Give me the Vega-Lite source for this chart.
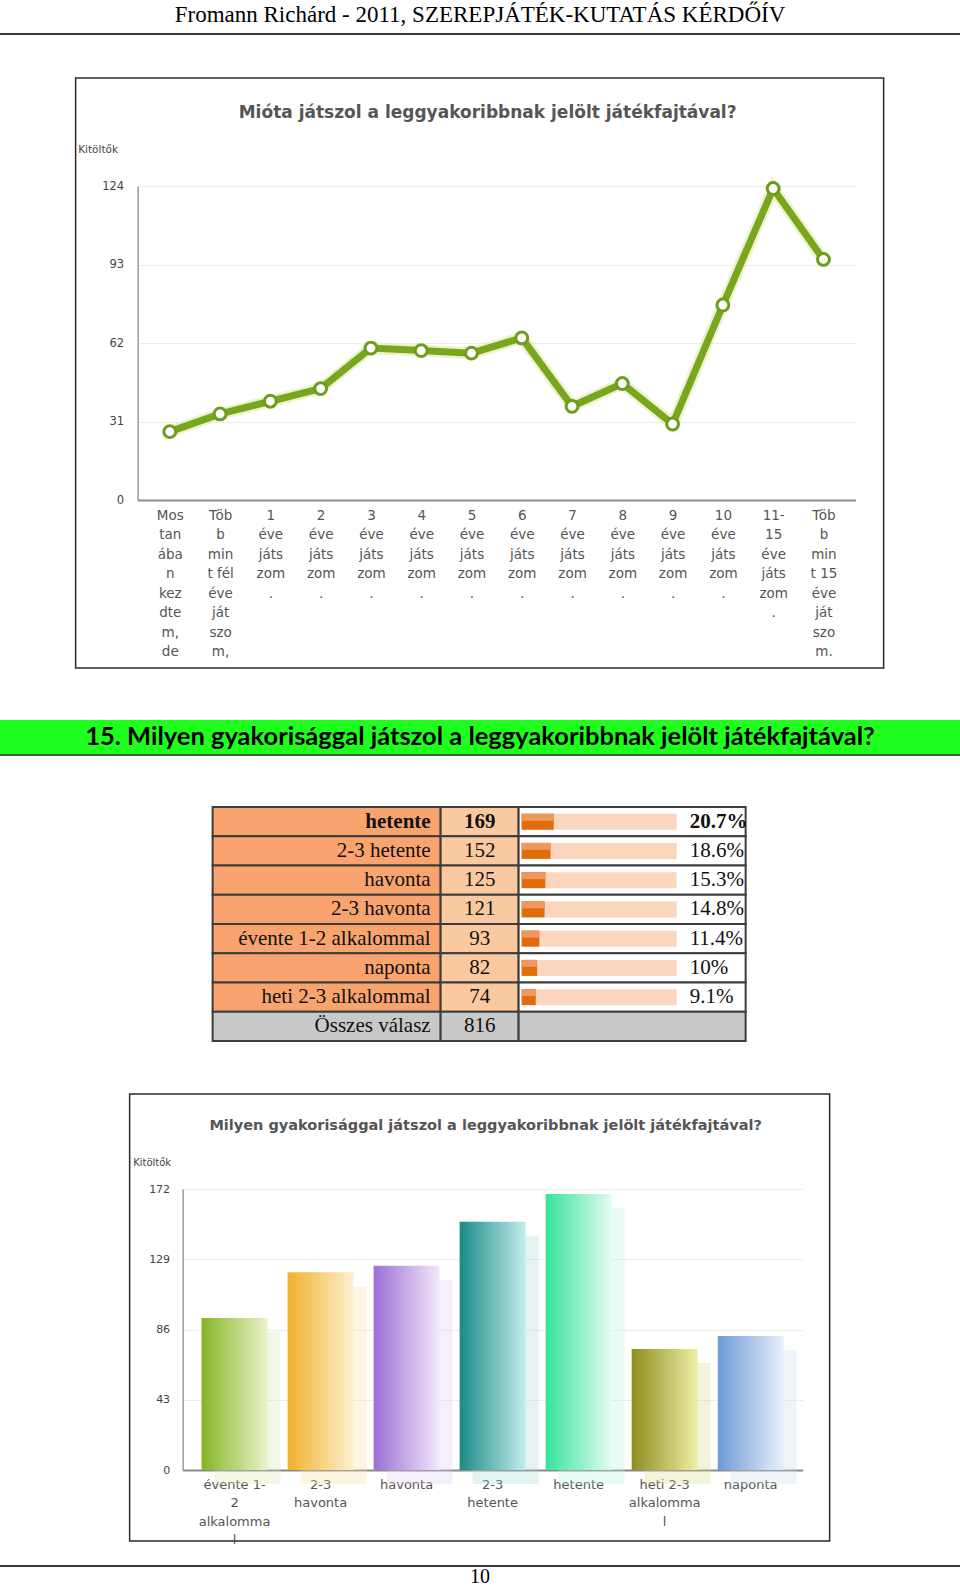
{
  "$schema": "https://vega.github.io/schema/vega-lite/v6.json",
  "padding": 0,
  "background": "white",
  "autosize": {"type": "pad"},
  "spacing": 0,
  "center": true,
  "bounds": "full",
  "config": {
    "view": {"stroke": null},
    "font": "DejaVu Sans",
    "axis": {"labelFont": "DejaVu Sans", "titleFont": "DejaVu Sans"}
  },
  "vconcat": [
    {
      "width": 960, "height": 33,
      "data": {"values": [{"t": "Fromann Richárd - 2011, SZEREPJÁTÉK-KUTATÁS KÉRDŐÍV"}]},
      "mark": {"type": "text", "font": "Liberation Serif", "fontSize": 23, "baseline": "middle", "dy": -2, "color": "#000000"},
      "encoding": {"text": {"field": "t"}}
    },
    {
      "width": 960, "height": 2, "view": {"fill": "#3a3a3a", "stroke": null},
      "data": {"values": [{}]}, "mark": {"type": "text", "fontSize": 1}, "encoding": {"text": {"value": ""}}
    },
    {
      "width": 960, "height": 42,
      "data": {"values": [{}]}, "mark": {"type": "text", "fontSize": 1}, "encoding": {"text": {"value": ""}}
    },
    {
      "width": 808, "height": 590,
      "view": {"stroke": "#2a2a2a", "strokeWidth": 1.5, "fill": "white"},
      "title": {"text": "Mióta játszol a leggyakoribbnak jelölt játékfajtával?", "frame": "group", "anchor": "middle", "offset": -52, "baseline": "middle", "dx": 8, "font": "DejaVu Sans", "fontSize": 17, "fontWeight": "bold", "color": "#555555"},
      "data": {"values": [
        {"cat": "Mostanában kezdtem, de", "n": 27},
        {"cat": "Több mint fél éve játszom,", "n": 34},
        {"cat": "1 éve játszom.", "n": 39},
        {"cat": "2 éve játszom.", "n": 44},
        {"cat": "3 éve játszom.", "n": 60},
        {"cat": "4 éve játszom.", "n": 59},
        {"cat": "5 éve játszom.", "n": 58},
        {"cat": "6 éve játszom.", "n": 64},
        {"cat": "7 éve játszom.", "n": 37},
        {"cat": "8 éve játszom.", "n": 46},
        {"cat": "9 éve játszom.", "n": 30},
        {"cat": "10 éve játszom.", "n": 77},
        {"cat": "11-15 éve játszom.", "n": 123},
        {"cat": "Több mint 15 éve játszom.", "n": 95}
      ]},
      "encoding": {
        "x": {"field": "cat", "type": "nominal", "sort": null,
          "scale": {"type": "point", "range": [62, 780], "padding": 0.64},
          "axis": {"orient": "bottom", "offset": -168, "title": null, "labelAngle": 0,
            "labelExpr": "datum.value == 'Mostanában kezdtem, de' ? ['Mos','tan','ába','n','kez','dte','m,','de'] : datum.value == 'Több mint fél éve játszom,' ? ['Töb','b','min','t fél','éve','ját','szo','m,'] : datum.value == '11-15 éve játszom.' ? ['11-','15','éve','játs','zom','.'] : datum.value == 'Több mint 15 éve játszom.' ? ['Töb','b','min','t 15','éve','ját','szo','m.'] : [split(datum.value, ' ')[0], 'éve', 'játs', 'zom', '.']",
            "labelFontSize": 13.5, "labelColor": "#555555", "labelLineHeight": 19.5, "labelPadding": 8,
            "labelBaseline": "top", "labelOverlap": false, "ticks": false, "tickSize": 0,
            "domainColor": "#8a8a8a", "domainWidth": 2, "grid": false}},
        "y": {"field": "n", "type": "quantitative",
          "scale": {"domain": [0, 124], "range": [422, 108], "nice": false},
          "axis": {"values": [0, 31, 62, 93, 124], "offset": -62, "title": "Kitöltők", "titleAngle": 0,
            "titleX": -40, "titleY": 71, "titleAlign": "center", "titleBaseline": "middle",
            "titleFontSize": 10.5, "titleFontWeight": "normal", "titleColor": "#444444",
            "labelFontSize": 11.5, "labelColor": "#444444", "labelPadding": 14, "ticks": false, "tickSize": 0,
            "domainColor": "#9a9a9a", "domainWidth": 1.5, "grid": true, "gridColor": "#ececec", "gridWidth": 1}}
      },
      "layer": [
        {"mark": {"type": "line", "color": "#E6F0C2", "strokeWidth": 12, "opacity": 0.8}},
        {"mark": {"type": "line", "color": "#78A61E", "strokeWidth": 7}},
        {"mark": {"type": "circle", "fill": "white", "stroke": "#6E9C1C", "strokeWidth": 3, "size": 140, "opacity": 1}}
      ]
    },
    {
      "width": 960, "height": 50.5,
      "data": {"values": [{}]}, "mark": {"type": "text", "fontSize": 1}, "encoding": {"text": {"value": ""}}
    },
    {
      "width": 960, "height": 34, "view": {"fill": "#1EFF1E", "stroke": null},
      "data": {"values": [{"t": "15. Milyen gyakorisággal játszol a leggyakoribbnak jelölt játékfajtával?"}]},
      "mark": {"type": "text", "font": "Lato", "fontWeight": "bold", "fontSize": 25.5, "baseline": "middle", "color": "#000000"},
      "encoding": {"text": {"field": "t"}}
    },
    {
      "width": 960, "height": 2, "view": {"fill": "#3F5F3F", "stroke": null},
      "data": {"values": [{}]}, "mark": {"type": "text", "fontSize": 1}, "encoding": {"text": {"value": ""}}
    },
    {
      "width": 960, "height": 50,
      "data": {"values": [{}]}, "mark": {"type": "text", "fontSize": 1}, "encoding": {"text": {"value": ""}}
    },
    {
      "data": {"values": [
        {"answer": "hetente", "count": 169, "share": 0.207, "kind": "answer"},
        {"answer": "2-3 hetente", "count": 152, "share": 0.186, "kind": "answer"},
        {"answer": "havonta", "count": 125, "share": 0.153, "kind": "answer"},
        {"answer": "2-3 havonta", "count": 121, "share": 0.148, "kind": "answer"},
        {"answer": "évente 1-2 alkalommal", "count": 93, "share": 0.114, "kind": "answer"},
        {"answer": "naponta", "count": 82, "share": 0.1, "kind": "answer"},
        {"answer": "heti 2-3 alkalommal", "count": 74, "share": 0.091, "kind": "answer"},
        {"answer": "Összes válasz", "count": 816, "kind": "total"}
      ]},
      "spacing": 0,
      "bounds": "flush",
      "resolve": {"scale": {"fill": "independent", "color": "independent"}},
      "hconcat": [
        {
          "width": 228, "height": 234,
          "encoding": {"y": {"field": "answer", "type": "nominal", "sort": null, "axis": null,
            "scale": {"domain": ["hetente", "2-3 hetente", "havonta", "2-3 havonta", "évente 1-2 alkalommal", "naponta", "heti 2-3 alkalommal", "Összes válasz"], "paddingInner": 0, "paddingOuter": 0}}},
          "layer": [
            {"mark": {"type": "rect", "stroke": "#3c3c3c", "strokeWidth": 2},
             "encoding": {"x": {"value": 0}, "x2": {"value": "width"},
               "fill": {"field": "kind", "type": "nominal", "scale": {"domain": ["answer", "total"], "range": ["#F9A46F", "#C9C9C9"]}, "legend": null}}},
            {"transform": [{"filter": "datum.answer != 'hetente'"}],
             "mark": {"type": "text", "align": "right", "dx": -10, "font": "Liberation Serif", "fontSize": 21, "baseline": "middle", "color": "#111111"},
             "encoding": {"x": {"value": "width"}, "text": {"field": "answer"}}},
            {"transform": [{"filter": "datum.answer == 'hetente'"}],
             "mark": {"type": "text", "align": "right", "dx": -10, "font": "Liberation Serif", "fontSize": 21, "fontWeight": "bold", "baseline": "middle", "color": "#111111"},
             "encoding": {"x": {"value": "width"}, "text": {"field": "answer"}}}
          ]
        },
        {
          "width": 78, "height": 234,
          "encoding": {"y": {"field": "answer", "type": "nominal", "sort": null, "axis": null,
            "scale": {"domain": ["hetente", "2-3 hetente", "havonta", "2-3 havonta", "évente 1-2 alkalommal", "naponta", "heti 2-3 alkalommal", "Összes válasz"], "paddingInner": 0, "paddingOuter": 0}}},
          "layer": [
            {"mark": {"type": "rect", "stroke": "#3c3c3c", "strokeWidth": 2},
             "encoding": {"x": {"value": 0}, "x2": {"value": "width"},
               "fill": {"field": "kind", "type": "nominal", "scale": {"domain": ["answer", "total"], "range": ["#FBC99F", "#C9C9C9"]}, "legend": null}}},
            {"transform": [{"filter": "datum.answer != 'hetente'"}],
             "mark": {"type": "text", "font": "Liberation Serif", "fontSize": 21, "baseline": "middle", "color": "#111111"},
             "encoding": {"text": {"field": "count", "type": "quantitative"}}},
            {"transform": [{"filter": "datum.answer == 'hetente'"}],
             "mark": {"type": "text", "font": "Liberation Serif", "fontSize": 21, "fontWeight": "bold", "baseline": "middle", "color": "#111111"},
             "encoding": {"text": {"field": "count", "type": "quantitative"}}}
          ]
        },
        {
          "width": 227, "height": 234,
          "encoding": {"y": {"field": "answer", "type": "nominal", "sort": null, "axis": null,
            "scale": {"domain": ["hetente", "2-3 hetente", "havonta", "2-3 havonta", "évente 1-2 alkalommal", "naponta", "heti 2-3 alkalommal", "Összes válasz"], "paddingInner": 0, "paddingOuter": 0}}},
          "layer": [
            {"mark": {"type": "rect", "stroke": "#3c3c3c", "strokeWidth": 2},
             "encoding": {"x": {"value": 0}, "x2": {"value": "width"},
               "fill": {"field": "kind", "type": "nominal", "scale": {"domain": ["answer", "total"], "range": ["#FFFFFF", "#C9C9C9"]}, "legend": null}}},
            {"transform": [{"filter": "datum.kind == 'answer'"}],
             "mark": {"type": "bar", "height": 16, "color": "#FBD5BC"},
             "encoding": {"x": {"datum": 0, "type": "quantitative", "scale": {"domain": [0, 1], "range": [3, 158], "nice": false, "zero": true}, "axis": null}, "x2": {"datum": 1}}},
            {"transform": [{"filter": "datum.kind == 'answer'"}],
             "mark": {"type": "bar", "height": 16, "color": "#E36C0A"},
             "encoding": {"x": {"field": "share", "type": "quantitative"}}},
            {"transform": [{"filter": "datum.kind == 'answer'"}],
             "mark": {"type": "bar", "height": 7, "yOffset": -4.5, "color": "#EE9860"},
             "encoding": {"x": {"field": "share", "type": "quantitative"}}},
            {"transform": [{"filter": "datum.kind == 'answer' && datum.answer != 'hetente'"}],
             "mark": {"type": "text", "align": "left", "dx": 13, "font": "Liberation Serif", "fontSize": 21, "baseline": "middle", "color": "#111111"},
             "encoding": {"x": {"datum": 1, "type": "quantitative"}, "text": {"field": "share", "type": "quantitative", "format": ".3~%"}}},
            {"transform": [{"filter": "datum.answer == 'hetente'"}],
             "mark": {"type": "text", "align": "left", "dx": 13, "font": "Liberation Serif", "fontSize": 21, "fontWeight": "bold", "baseline": "middle", "color": "#111111"},
             "encoding": {"x": {"datum": 1, "type": "quantitative"}, "text": {"field": "share", "type": "quantitative", "format": ".3~%"}}}
          ]
        }
      ]
    },
    {
      "width": 960, "height": 50.25,
      "data": {"values": [{}]}, "mark": {"type": "text", "fontSize": 1}, "encoding": {"text": {"value": ""}}
    },
    {
      "width": 700, "height": 447,
      "view": {"stroke": "#2a2a2a", "strokeWidth": 1.5, "fill": "white"},
      "title": {"text": "Milyen gyakorisággal játszol a leggyakoribbnak jelölt játékfajtával?", "frame": "group", "anchor": "middle", "offset": -46, "baseline": "middle", "dx": 6, "font": "DejaVu Sans", "fontSize": 14.5, "fontWeight": "bold", "color": "#555555"},
      "data": {"values": [
        {"answer": "évente 1-2 alkalommal", "count": 93},
        {"answer": "2-3 havonta", "count": 121},
        {"answer": "havonta", "count": 125},
        {"answer": "2-3 hetente", "count": 152},
        {"answer": "hetente", "count": 169},
        {"answer": "heti 2-3 alkalommal", "count": 74},
        {"answer": "naponta", "count": 82}
      ]},
      "encoding": {
        "x": {"field": "answer", "type": "nominal", "sort": null,
          "scale": {"domain": ["évente 1-2 alkalommal", "2-3 havonta", "havonta", "2-3 hetente", "hetente", "heti 2-3 alkalommal", "naponta"], "range": [53, 673], "paddingInner": 0.233, "paddingOuter": 0.22},
          "axis": {"orient": "bottom", "offset": -71, "title": null, "labelAngle": 0,
            "labelExpr": "datum.value == 'évente 1-2 alkalommal' ? ['évente 1-','2','alkalomma','l'] : datum.value == '2-3 havonta' ? ['2-3','havonta'] : datum.value == '2-3 hetente' ? ['2-3','hetente'] : datum.value == 'heti 2-3 alkalommal' ? ['heti 2-3','alkalomma','l'] : datum.value",
            "labelFontSize": 13, "labelColor": "#555555", "labelLineHeight": 18.5, "labelPadding": 8,
            "labelBaseline": "top", "labelOverlap": false, "ticks": false, "tickSize": 0,
            "domainColor": "#8a8a8a", "domainWidth": 2, "grid": false}},
        "y": {"field": "count", "type": "quantitative",
          "scale": {"domain": [0, 172], "range": [376, 95], "nice": false},
          "axis": {"values": [0, 43, 86, 129, 172], "offset": -53, "title": "Kitöltők", "titleAngle": 0,
            "titleX": -31, "titleY": 68, "titleAlign": "center", "titleBaseline": "middle",
            "titleFontSize": 10, "titleFontWeight": "normal", "titleColor": "#444444",
            "labelFontSize": 11, "labelColor": "#444444", "labelPadding": 13, "ticks": false, "tickSize": 0,
            "domainColor": "#9a9a9a", "domainWidth": 1.5, "grid": true, "gridColor": "#ececec", "gridWidth": 1}}
      },
      "layer": [
        {"mark": {"type": "bar", "xOffset": 13, "yOffset": 14, "opacity": 0.3},
         "encoding": {"fill": {"field": "answer", "type": "nominal", "legend": null,
           "scale": {"domain": ["évente 1-2 alkalommal", "2-3 havonta", "havonta", "2-3 hetente", "hetente", "heti 2-3 alkalommal", "naponta"],
             "range": ["#D5E8A8", "#F9DFA0", "#DCCBF2", "#9ED6D4", "#B7F3DA", "#DADA90", "#C9DAF2"]}}}},
        {"transform": [{"filter": "datum.answer == 'évente 1-2 alkalommal'"}],
         "mark": {"type": "bar", "fill": {"gradient": "linear", "x1": 0, "y1": 0, "x2": 1, "y2": 0, "stops": [{"offset": 0, "color": "#86B424"}, {"offset": 1, "color": "#EAF3CD"}]}}},
        {"transform": [{"filter": "datum.answer == '2-3 havonta'"}],
         "mark": {"type": "bar", "fill": {"gradient": "linear", "x1": 0, "y1": 0, "x2": 1, "y2": 0, "stops": [{"offset": 0, "color": "#F0B02C"}, {"offset": 1, "color": "#FCF1CF"}]}}},
        {"transform": [{"filter": "datum.answer == 'havonta'"}],
         "mark": {"type": "bar", "fill": {"gradient": "linear", "x1": 0, "y1": 0, "x2": 1, "y2": 0, "stops": [{"offset": 0, "color": "#9C6FD6"}, {"offset": 1, "color": "#F1E8FA"}]}}},
        {"transform": [{"filter": "datum.answer == '2-3 hetente'"}],
         "mark": {"type": "bar", "fill": {"gradient": "linear", "x1": 0, "y1": 0, "x2": 1, "y2": 0, "stops": [{"offset": 0, "color": "#1B8A86"}, {"offset": 1, "color": "#C3EDEC"}]}}},
        {"transform": [{"filter": "datum.answer == 'hetente'"}],
         "mark": {"type": "bar", "fill": {"gradient": "linear", "x1": 0, "y1": 0, "x2": 1, "y2": 0, "stops": [{"offset": 0, "color": "#36E39A"}, {"offset": 1, "color": "#E3FBF1"}]}}},
        {"transform": [{"filter": "datum.answer == 'heti 2-3 alkalommal'"}],
         "mark": {"type": "bar", "fill": {"gradient": "linear", "x1": 0, "y1": 0, "x2": 1, "y2": 0, "stops": [{"offset": 0, "color": "#8E8E1E"}, {"offset": 1, "color": "#EEEEA8"}]}}},
        {"transform": [{"filter": "datum.answer == 'naponta'"}],
         "mark": {"type": "bar", "fill": {"gradient": "linear", "x1": 0, "y1": 0, "x2": 1, "y2": 0, "stops": [{"offset": 0, "color": "#6E9AD8"}, {"offset": 1, "color": "#E8EFFA"}]}}}
      ]
    },
    {
      "width": 960, "height": 16.5,
      "data": {"values": [{}]}, "mark": {"type": "text", "fontSize": 1}, "encoding": {"text": {"value": ""}}
    },
    {
      "width": 960, "height": 2, "view": {"fill": "#3a3a3a", "stroke": null},
      "data": {"values": [{}]}, "mark": {"type": "text", "fontSize": 1}, "encoding": {"text": {"value": ""}}
    },
    {
      "width": 960, "height": 20,
      "data": {"values": [{"t": "10"}]},
      "mark": {"type": "text", "font": "Liberation Serif", "fontSize": 20, "baseline": "middle", "color": "#000000"},
      "encoding": {"text": {"field": "t"}}
    }
  ]
}
